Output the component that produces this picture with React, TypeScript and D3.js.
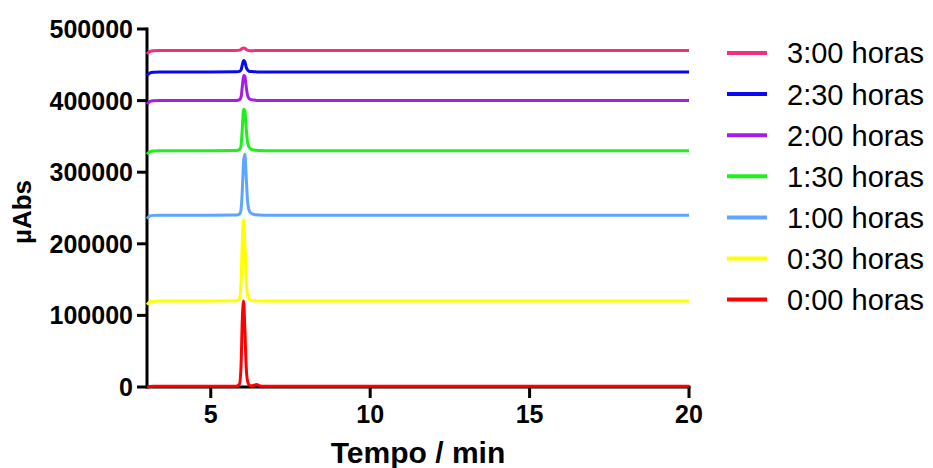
import React from "react";
import * as d3 from "d3";

// Retention time grid (min) shared by every chromatogram trace
const TIME = [3.0, 3.08, 3.2, 3.4, 5.0, 5.8, 5.9, 5.95, 5.99, 6.03, 6.07, 6.11, 6.15, 6.2, 6.27, 6.36, 6.44, 6.52, 6.7, 10, 15, 20];

// Absorbance (µAbs) of each sampling time, offset so the traces stack
const H0000 = [0, 600, 1000, 1000, 1000, 1200, 4000, 30000, 95000, 120000, 80000, 30000, 9000, 3000, 1500, 2500, 3500, 1800, 1000, 1000, 1000, 1000];
const H0030 = [115000, 118500, 119700, 120000, 120000, 120300, 123000, 145000, 205000, 234000, 200000, 150000, 129000, 123000, 121000, 120500, 120300, 120100, 120000, 120000, 120000, 120000];
const H0100 = [235000, 238500, 239700, 240000, 240000, 240300, 241500, 248000, 275000, 315000, 325000, 295000, 262000, 247000, 242500, 241000, 240500, 240200, 240000, 240000, 240000, 240000];
const H0130 = [325000, 328500, 329700, 330000, 330000, 330300, 331500, 337000, 362000, 388000, 386000, 362000, 343000, 335000, 332000, 331000, 330500, 330200, 330000, 330000, 330000, 330000];
const H0200 = [395000, 398500, 399700, 400000, 400000, 400300, 401200, 405000, 420000, 435000, 434000, 420000, 408000, 403000, 401300, 400700, 400300, 400100, 400000, 400000, 400000, 400000];
const H0230 = [435000, 438500, 439700, 440000, 440000, 440200, 440800, 443000, 450000, 456000, 454000, 447000, 443000, 441000, 440500, 440200, 440100, 440000, 440000, 440000, 440000, 440000];
const H0300 = [465000, 468500, 469700, 470000, 470000, 470100, 470500, 471500, 473000, 473500, 473000, 471500, 470500, 469800, 469500, 469800, 470000, 470000, 470000, 470000, 470000, 470000];

const SERIES = [
  { label: "0:00 horas", values: H0000, color: "#FF0000" },
  { label: "0:30 horas", values: H0030, color: "#FFFF00" },
  { label: "1:00 horas", values: H0100, color: "#5EA5FF" },
  { label: "1:30 horas", values: H0130, color: "#1EF01E" },
  { label: "2:00 horas", values: H0200, color: "#A31EE6" },
  { label: "2:30 horas", values: H0230, color: "#0A0AF0" },
  { label: "3:00 horas", values: H0300, color: "#F0307F" },
];

const X_TICKS = [5, 10, 15, 20];
const Y_TICKS = [0, 100000, 200000, 300000, 400000, 500000];

const FONT = "'Liberation Sans', Arial, Helvetica, sans-serif";

export default function App() {
  const width = 933;
  const height = 468;
  const x = d3.scaleLinear().domain([3, 20]).range([147, 689]);
  const y = d3.scaleLinear().domain([0, 500000]).range([387, 29]);

  const line = d3
    .line<number>()
    .x((_, i) => x(TIME[i]))
    .y((v) => y(v))
    .curve(d3.curveMonotoneX);

  const legendTop = 53;
  const legendStep = 41.1;
  const legendOrder = [...SERIES].reverse();

  return (
    <svg
      width={width}
      height={height}
      style={{ position: "absolute", left: 0, top: 0, background: "#fff" }}
      fontFamily={FONT}
    >
      {/* y axis */}
      <line x1={x(3)} x2={x(3)} y1={y(500000) - 1.5} y2={y(0) + 1.5} stroke="#000" strokeWidth={3} />
      {Y_TICKS.map((t) => (
        <g key={t}>
          <line x1={x(3) - 10} x2={x(3)} y1={y(t)} y2={y(t)} stroke="#000" strokeWidth={3} />
          <text
            x={133}
            y={y(t)}
            dy="0.36em"
            textAnchor="end"
            fontSize={25}
            fontWeight="bold"
          >
            {t}
          </text>
        </g>
      ))}
      <text
        transform={`translate(31,${(y(0) + y(500000)) / 2 + 4}) rotate(-90)`}
        textAnchor="middle"
        fontSize={26}
        fontWeight="bold"
      >
        µAbs
      </text>

      {/* x axis */}
      <line x1={x(3)} x2={x(20) + 1.5} y1={y(0)} y2={y(0)} stroke="#000" strokeWidth={3} />
      {X_TICKS.map((t) => (
        <g key={t}>
          <line x1={x(t)} x2={x(t)} y1={y(0)} y2={y(0) + 11} stroke="#000" strokeWidth={3} />
          <text x={x(t)} y={423} textAnchor="middle" fontSize={25} fontWeight="bold">
            {t}
          </text>
        </g>
      ))}
      <text x={(x(3) + x(20)) / 2} y={463} textAnchor="middle" fontSize={30} fontWeight="bold">
        Tempo / min
      </text>

      {/* chromatogram traces */}
      {SERIES.map((s) => (
        <path
          key={s.label}
          d={line(s.values) ?? ""}
          fill="none"
          stroke={s.color}
          strokeWidth={3}
          strokeLinejoin="round"
        />
      ))}

      {/* legend */}
      {legendOrder.map((s, i) => {
        const ly = legendTop + i * legendStep;
        return (
          <g key={s.label}>
            <line x1={727} x2={767} y1={ly} y2={ly} stroke={s.color} strokeWidth={4} />
            <text x={787} y={ly} dy="0.36em" fontSize={29}>
              {s.label}
            </text>
          </g>
        );
      })}
    </svg>
  );
}
